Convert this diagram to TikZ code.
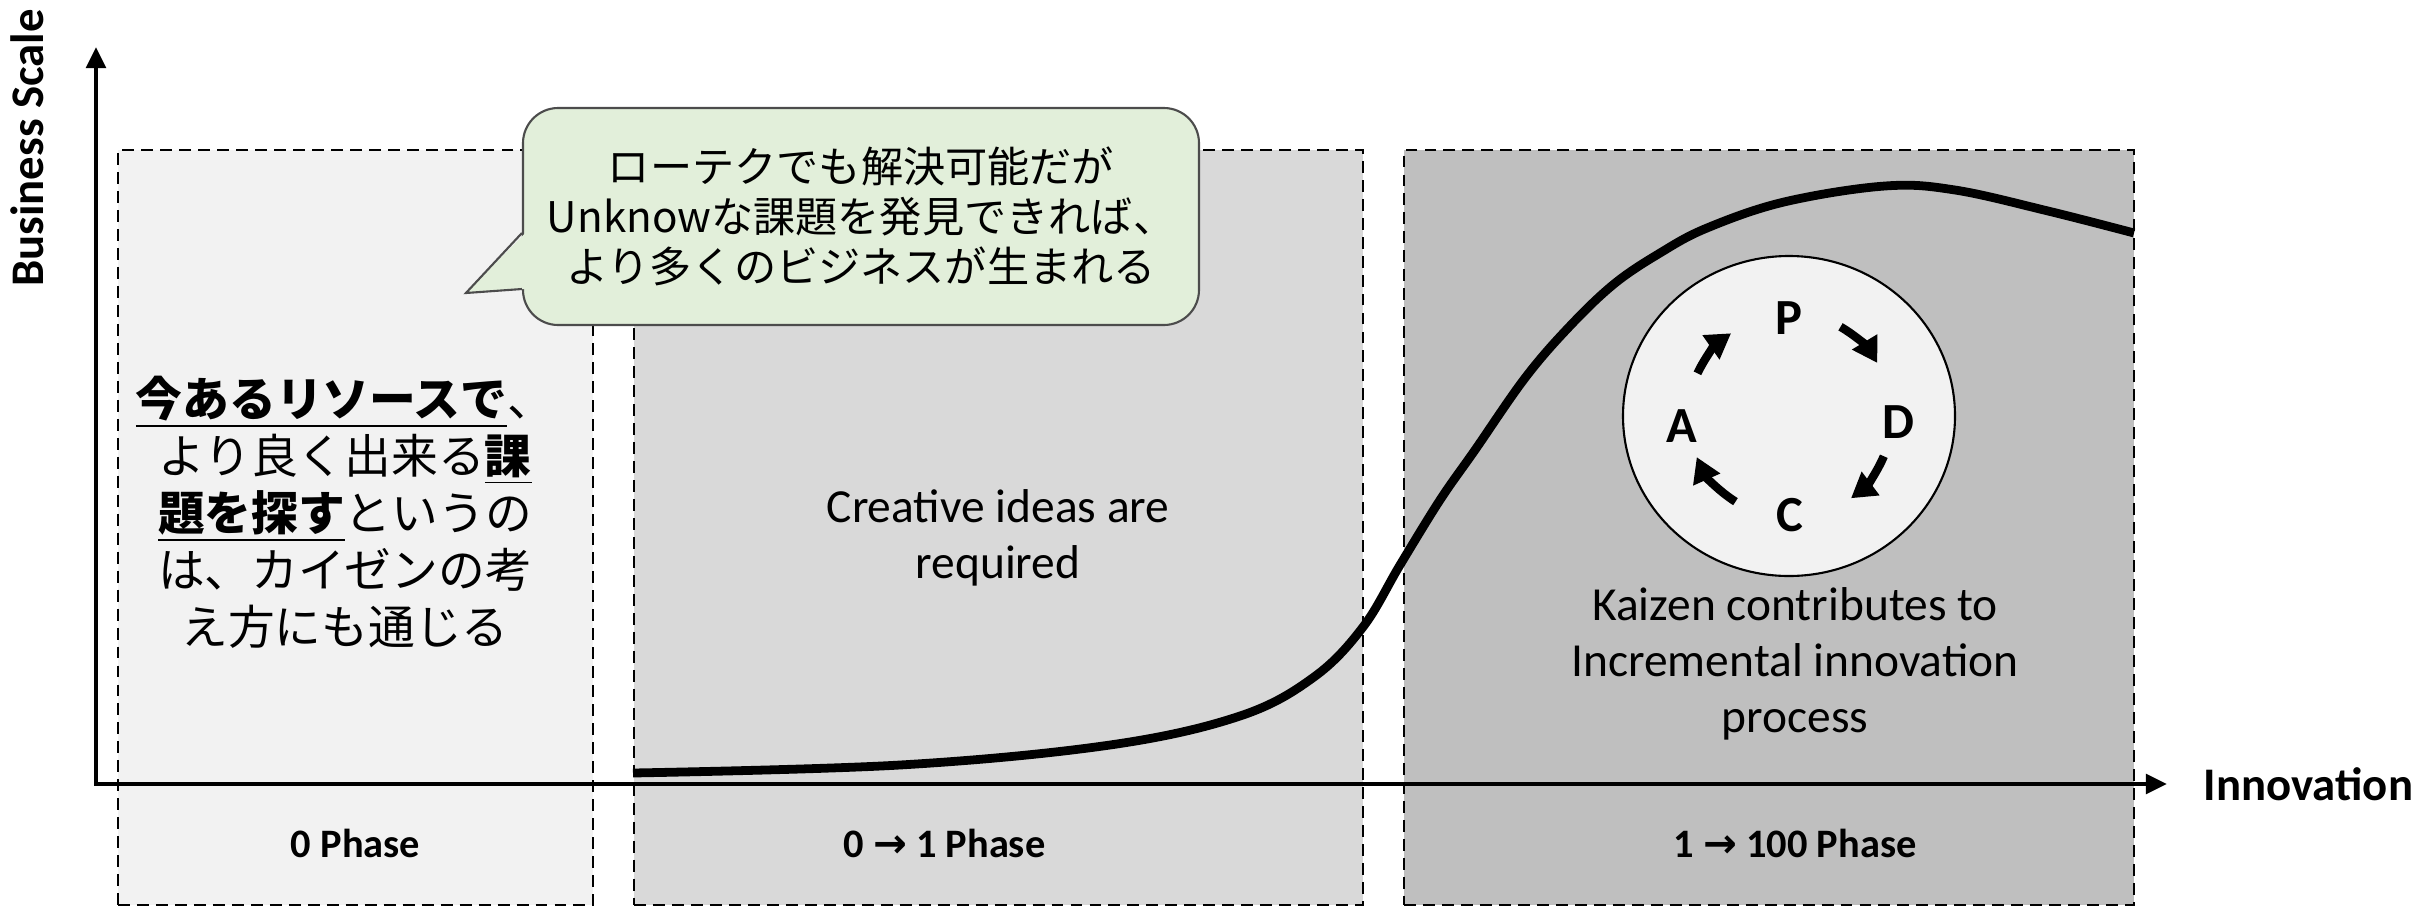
\documentclass[tikz,border=0pt]{standalone}
\usepackage{fontspec}
\setmainfont{Carlito}
\newfontfamily\jpfont{Noto Sans CJK JP}
\newfontfamily\arrfont{DejaVu Sans}
\usetikzlibrary{arrows.meta,chains,positioning,shapes.geometric}
\definecolor{phaseA}{HTML}{F2F2F2}
\definecolor{phaseB}{HTML}{D9D9D9}
\definecolor{phaseC}{HTML}{BFBFBF}
\definecolor{bubblegreen}{HTML}{E2EFDA}
\newcommand\phasearr{{\arrfont\bfseries →}}

\begin{document}
\begin{tikzpicture}[
node distance=4.1mm,
 start chain = B going right,
 phasebox/.style = {rectangle, draw, dash pattern=on 3.4pt off 2pt, line width=0.6pt,
                    minimum height=75.5mm, outer sep=0pt, on chain},% the three phase areas
      ax/.style = {line width=1.2pt, {Triangle[length=6pt,width=5.5pt]}-{Triangle[length=6pt,width=5.5pt]}},
   axlbl/.style = {font=\fontsize{13.3pt}{16pt}\selectfont\bfseries, inner sep=0pt},
   phlbl/.style = {font=\fontsize{11.5pt}{14pt}\selectfont\bfseries},
     txt/.style = {font=\fontsize{13.5pt}{16pt}\selectfont, align=center},
   jptxt/.style = {font=\jpfont\fontsize{13.3pt}{16.2pt}\selectfont, align=center},
  bubble/.style = {rectangle, rounded corners=10pt, draw=black!70, line width=0.6pt,
                   fill=bubblegreen, minimum width=67.6mm, minimum height=21.7mm,
                   align=center, font=\jpfont\fontsize{12pt}{14.2pt}\selectfont},
 pdcaltr/.style = {font=\fontsize{14.4pt}{16pt}\selectfont\bfseries, inner sep=0pt},
     cyc/.style = {line width=2.4pt, -{Triangle[length=7pt,width=8pt]}},
                        ]
\useasboundingbox (0,0) rectangle (24.33,9.08);
% phase areas
\node[phasebox, fill=phaseA, minimum width=47.5mm] at (3.555,3.805) {};
\foreach \w/\c in {72.9mm/phaseB, 73mm/phaseC}% <-- width and fill of the next areas
    \node[phasebox, fill=\c, minimum width=\w] {};
\node[phlbl] (L1) at ([yshift=6.2mm] B-1.south) {0 Phase};
\node[phlbl] (L2) at ([yshift=6.2mm,xshift=-5.4mm] B-2.south) {0 \phasearr{} 1 Phase};
\node[phlbl] (L3) at ([yshift=6.2mm,xshift=2.6mm] B-3.south) {1 \phasearr{} 100 Phase};
% growth curve
\draw[line width=2.5pt] plot[smooth, tension=0.6] coordinates {
    (6.33,1.35) (9.00,1.43) (11.10,1.63) (12.40,1.92) (13.14,2.31) (13.63,2.81)
    (14.00,3.43) (14.40,4.08) (14.75,4.58) (15.25,5.30) (15.69,5.81) (16.14,6.24)
    (16.60,6.55) (17.07,6.80) (17.84,7.06) (18.85,7.22) (19.55,7.18) (20.48,6.97)
    (21.34,6.75)};
% axes
\coordinate (O) at (0.96,1.24);
\coordinate (xend) at (21.67,1.24);
\coordinate (yend) at (0.96,8.61);
\draw[ax] (yend) -- (O) -- (xend);
\node[axlbl, right=3.6mm of xend] (xlbl) {Innovation};
\node[axlbl, rotate=90] (ylbl) at (0.27,7.60) {Business Scale};
% texts in the areas
\node[jptxt] (kaizenjp) at (3.45,3.96) {\underline{\bfseries 今あるリソースで}、\\
    より良く出来る\underline{\bfseries 課}\\
    \underline{\bfseries 題を探す}というの\\
    は、カイゼンの考\\
    え方にも通じる};
\node[txt] (idea) at (9.98,3.70) {Creative ideas are\\required};
\node[txt] (incr) at (17.95,2.44) {Kaizen contributes to\\Incremental innovation\\process};
% call-out
\node[bubble] (bub) at (8.61,6.915) {ローテクでも解決可能だが\\Unknowな課題を発見できれば、\\より多くのビジネスが生まれる};
\coordinate (tip) at ([shift={(-5.6mm,-7.65mm)}] bub.west);
\fill[bubblegreen] ([xshift=1pt,yshift=-1.65mm] bub.west) -- (tip) -- ([xshift=1pt,yshift=-7.25mm] bub.west) -- cycle;
\draw[black!70, line width=0.6pt] ([yshift=-1.65mm] bub.west) -- (tip) -- ([yshift=-7.25mm] bub.west);
% PDCA cycle
\node[ellipse, draw, line width=0.6pt, fill=phaseA, minimum width=33.2mm,
      minimum height=32mm, inner sep=0pt] (pdca) at (17.89,4.92) {};
\node[pdcaltr] (P) at ([yshift=9.8mm] pdca.center) {P};
\node[pdcaltr] (D) at ([shift={(10.9mm,-0.6mm)}] pdca.center) {D};
\node[pdcaltr] (C) at ([shift={(0.1mm,-9.9mm)}] pdca.center) {C};
\node[pdcaltr] (A) at ([shift={(-10.7mm,-1mm)}] pdca.center) {A};
\draw[cyc] ([shift={(60:1.03)}] pdca.center) arc[start angle=60, end angle=31, radius=1.03];
\draw[cyc] ([shift={(-23:1.03)}] pdca.center) arc[start angle=-23, end angle=-53, radius=1.03];
\draw[cyc] ([shift={(238:1.01)}] pdca.center) arc[start angle=238, end angle=204, radius=1.01];
\draw[cyc] ([shift={(155:1.01)}] pdca.center) arc[start angle=155, end angle=125, radius=1.01];
\end{tikzpicture}
\end{document}
